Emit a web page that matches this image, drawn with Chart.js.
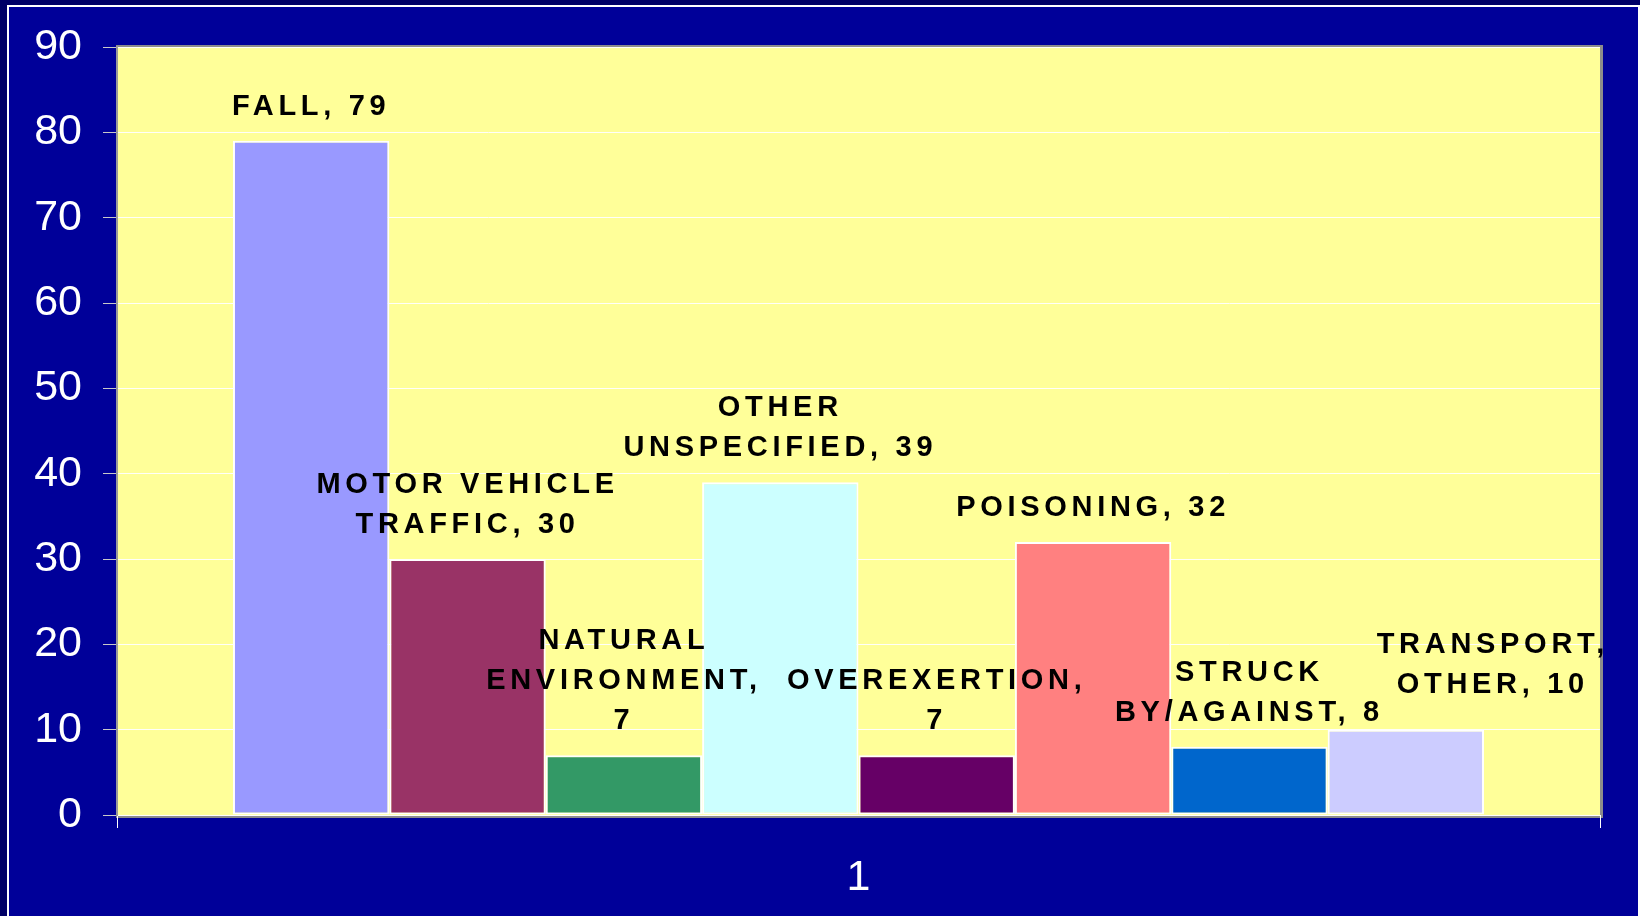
<!DOCTYPE html>
<html>
<head>
<meta charset="utf-8">
<title>Injury causes</title>
<script src="https://cdn.jsdelivr.net/npm/chart.js@4.4.1/dist/chart.umd.min.js"></script>
<style>
  html, body { margin: 0; padding: 0; }
  body { width: 1640px; height: 916px; background: #000066; overflow: hidden; position: relative; }
  #frame {
    position: absolute; left: 7px; top: 5px; width: 1629px; height: 930px;
    border: 2px solid #ffffff; border-bottom: none; background: #000099;
  }
  #wrap { position: absolute; left: 0; top: 0; width: 1640px; height: 916px; }
</style>
</head>
<body>
<div id="frame"></div>
<div id="wrap"><canvas id="injury-chart"></canvas></div>
<script>
// category on the x axis (single group)
const categories = ['1'];
// series names, '|' marks where the data label wraps
const seriesNames = [
  'FALL',
  'MOTOR VEHICLE|TRAFFIC',
  'NATURAL|ENVIRONMENT',
  'OTHER|UNSPECIFIED',
  'OVEREXERTION',
  'POISONING',
  'STRUCK|BY/AGAINST',
  'TRANSPORT,|OTHER'
];
const seriesValues = [79, 30, 7, 39, 7, 32, 8, 10];
// value goes on its own line in the label
const valueOwnLine = [false, false, true, false, true, false, false, false];
const seriesColors = ['#9999FF', '#993366', '#339966', '#CCFFFF', '#660066', '#FF8080', '#0066CC', '#CCCCFF'];
const yTicks = [0, 10, 20, 30, 40, 50, 60, 70, 80, 90];

const FONT = '"Liberation Sans", Arial, sans-serif';

// yellow plot area with grey shadow edge
const plotBackground = {
  id: 'plotBackground',
  beforeDraw(chart) {
    const { ctx, chartArea: a } = chart;
    ctx.save();
    ctx.fillStyle = '#8c8c8c';
    ctx.fillRect(a.left - 1, a.top - 2, a.right - a.left + 4, a.bottom - a.top + 5);
    ctx.fillStyle = '#FFFF99';
    ctx.fillRect(a.left, a.top, a.right - a.left, a.bottom - a.top);
    ctx.restore();
  }
};

// spaced bold labels above each bar
const barLabels = {
  id: 'barLabels',
  afterDatasetsDraw(chart, args, opts) {
    const ctx = chart.ctx;
    ctx.save();
    ctx.font = 'bold 29px ' + FONT;
    ctx.fillStyle = '#000000';
    ctx.textBaseline = 'middle';
    const spacing = 4.7;
    const hasLS = 'letterSpacing' in ctx;
    chart.data.datasets.forEach((ds, i) => {
      const bar = chart.getDatasetMeta(i).data[0];
      if (!bar) return;
      const text = seriesNames[i] + ',' + (valueOwnLine[i] ? '|' : ' ') + ds.data[0];
      const lines = text.split('|');
      const cx = bar.x + (opts.shiftX[i] || 0);
      let y = bar.y - 34 + (opts.shiftY[i] || 0) - (lines.length - 1) * 40;
      lines.forEach(line => {
        if (hasLS) {
          ctx.letterSpacing = spacing + 'px';
          ctx.textAlign = 'center';
          ctx.fillText(line, cx, y);
        } else {
          ctx.textAlign = 'left';
          let w = 0;
          for (const ch of line) w += ctx.measureText(ch).width + spacing;
          let x = cx - w / 2;
          for (const ch of line) {
            ctx.fillText(ch, x, y);
            x += ctx.measureText(ch).width + spacing;
          }
        }
        y += 40;
      });
    });
    ctx.restore();
  }
};

new Chart(document.getElementById('injury-chart').getContext('2d'), {
  type: 'bar',
  data: {
    labels: categories,
    datasets: seriesNames.map((name, i) => ({
      label: name.replace('|', ' '),
      data: [seriesValues[i]],
      backgroundColor: seriesColors[i],
      borderColor: '#ffffff',
      borderWidth: 2,
      borderSkipped: false,
      categoryPercentage: 0.8436,
      barPercentage: 1
    }))
  },
  options: {
    responsive: true,
    maintainAspectRatio: false,
    animation: false,
    layout: { padding: { left: 0, right: 40, top: 47, bottom: 0 } },
    plugins: {
      legend: { display: false },
      tooltip: { enabled: false },
      barLabels: {
        shiftX: [0, 0, 0, 0, 0, 0, 0, 87],
        shiftY: [0, 0, 0, 0, 0, 0, 0, -11]
      }
    },
    scales: {
      x: {
        grid: { drawOnChartArea: false, color: '#ffffff', tickLength: 13, lineWidth: 1 },
        border: { display: true, color: '#ffffff', width: 1 },
        ticks: { color: '#ffffff', font: { family: FONT, size: 43 }, padding: 24 },
        afterFit(scale) { scale.height = 101; }
      },
      y: {
        min: 0,
        max: 90,
        afterBuildTicks(scale) { scale.ticks = yTicks.map(v => ({ value: v })); },
        grid: { color: 'rgba(255,255,255,0.95)', tickColor: '#c8c8c8', tickLength: 14, lineWidth: 1 },
        border: { display: true, color: '#9a9a9a', width: 2 },
        ticks: { color: '#ffffff', font: { family: FONT, size: 43 }, padding: 21 },
        afterFit(scale) { scale.width = 117; }
      }
    }
  },
  plugins: [plotBackground, barLabels]
});
</script>
</body>
</html>
